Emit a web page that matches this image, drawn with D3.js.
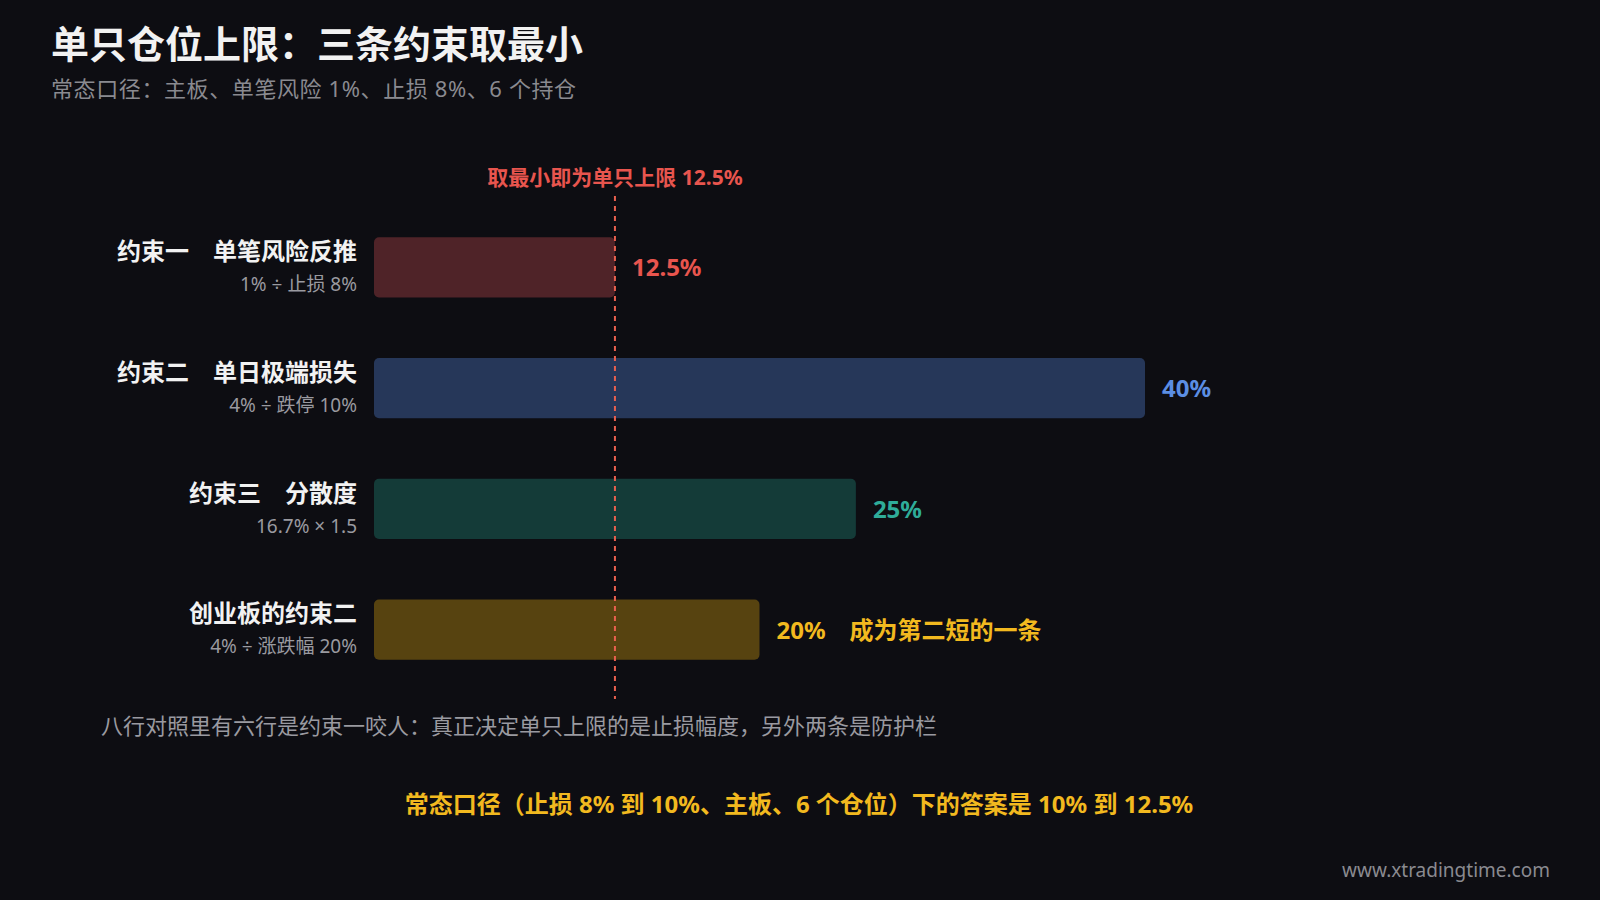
<!DOCTYPE html>
<html><head><meta charset="utf-8">
<script src="https://cdn.jsdelivr.net/npm/d3@7"></script>
<style>
body{margin:0;background:#0d0d12;}
text{font-family:"Noto Sans","Noto Sans CJK SC",sans-serif;}
</style></head>
<body><div id="vis"></div>
<script>
// data
const labels = ["约束一　单笔风险反推", "约束二　单日极端损失", "约束三　分散度", "创业板的约束二"];
const formulas = ["1% ÷ 止损 8%", "4% ÷ 跌停 10%", "16.7% × 1.5", "4% ÷ 涨跌幅 20%"];
const values = [12.5, 40, 25, 20];
const valueLabels = ["12.5%", "40%", "25%", "20%　成为第二短的一条"];
const fills = ["#4f2328", "#263759", "#143b38", "#574310"];
const textColors = ["#e8554e", "#5b8ee3", "#2fac99", "#f2b91f"];
const minValue = 12.5;

const W = 1600, H = 900;
const svg = d3.select("#vis").append("svg").attr("width", W).attr("height", H);
svg.append("rect").attr("width", W).attr("height", H).attr("fill", "#0d0d12");

const X = d3.scaleLinear().domain([0, 40]).range([374, 1145]);
const Y = d3.scaleBand().domain(d3.range(values.length)).range([207, 690]).paddingInner(0.5).paddingOuter(0.25);

// title
svg.append("text").attr("x", 51).attr("y", 58).attr("fill", "#f2f2f2")
   .attr("font-size", 38).attr("font-weight", "bold").text("单只仓位上限：三条约束取最小");
svg.append("text").attr("x", 51).attr("y", 97).attr("fill", "#8a8a90")
   .attr("font-size", 22).attr("letter-spacing", 0.6).text("常态口径：主板、单笔风险 1%、止损 8%、6 个持仓");

// bars
svg.selectAll(".bar").data(values).enter().append("rect")
   .attr("x", X(0)).attr("y", (d, i) => Y(i))
   .attr("width", d => X(d) - X(0)).attr("height", Y.bandwidth())
   .attr("rx", 5).attr("fill", (d, i) => fills[i]);

svg.selectAll(".val").data(values).enter().append("text")
   .attr("x", d => X(d) + 17).attr("y", (d, i) => Y(i) + Y.bandwidth() / 2 + 9)
   .attr("fill", (d, i) => textColors[i]).attr("font-size", 24).attr("font-weight", "bold")
   .text((d, i) => valueLabels[i]);

svg.selectAll(".lab").data(labels).enter().append("text")
   .attr("x", 357).attr("y", (d, i) => Y(i) + 23)
   .attr("text-anchor", "end").attr("fill", "#f2f2f2").attr("font-size", 24).attr("font-weight", "bold")
   .text(d => d);
svg.selectAll(".form").data(formulas).enter().append("text")
   .attr("x", 357).attr("y", (d, i) => Y(i) + 54)
   .attr("text-anchor", "end").attr("fill", "#9a9aa0").attr("font-size", 19)
   .text(d => d);

// min line
svg.append("line").attr("x1", X(minValue)).attr("x2", X(minValue))
   .attr("y1", 196).attr("y2", 699)
   .attr("stroke", "#e8604e").attr("stroke-width", 2).attr("stroke-dasharray", "5,5");
svg.append("text").attr("x", X(minValue)).attr("y", 185).attr("text-anchor", "middle")
   .attr("fill", "#e8554e").attr("font-size", 21).attr("font-weight", "bold")
   .text("取最小即为单只上限 12.5%");

// notes
svg.append("text").attr("x", 101).attr("y", 734).attr("fill", "#9a9aa0").attr("font-size", 22)
   .text("八行对照里有六行是约束一咬人：真正决定单只上限的是止损幅度，另外两条是防护栏");
svg.append("text").attr("x", 799).attr("y", 813).attr("text-anchor", "middle")
   .attr("fill", "#f2b91f").attr("font-size", 24).attr("font-weight", "bold")
   .text("常态口径（止损 8% 到 10%、主板、6 个仓位）下的答案是 10% 到 12.5%");
svg.append("text").attr("x", 1550).attr("y", 877).attr("text-anchor", "end")
   .attr("fill", "#8a8a90").attr("font-size", 19).text("www.xtradingtime.com");
</script>
</body></html>
